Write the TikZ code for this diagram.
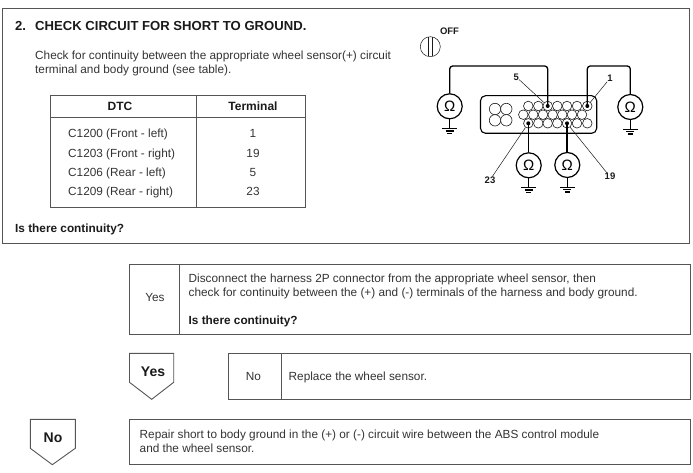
\documentclass[tikz,border=0pt]{standalone}
\usepackage{fontspec}
\setmainfont{Liberation Sans}
\usepackage{xcolor}
\definecolor{cFrame}{HTML}{555555}
\definecolor{cInk}{HTML}{1A1A1A}
\definecolor{cBody}{HTML}{333333}
\usetikzlibrary{positioning,calc}
\tikzset{
  frame-line/.style={draw=cFrame,line width=0.9pt},
  txt-body/.style={anchor=base west,inner sep=0pt,text=cBody,font=\fontsize{11.8}{14}\selectfont},
  txt-bold/.style={anchor=base west,inner sep=0pt,text=cInk,font=\fontsize{11.8}{14}\selectfont\bfseries},
  txt-cell/.style={anchor=base,inner sep=0pt,text=cBody,font=\fontsize{11.8}{14}\selectfont},
  txt-head/.style={anchor=base,inner sep=0pt,text=cInk,font=\fontsize{12}{14}\selectfont\bfseries},
  txt-sign/.style={anchor=base,inner sep=0pt,text=cInk,font=\fontsize{14}{16}\selectfont\bfseries},
  txt-title/.style={anchor=base west,inner sep=0pt,text=cInk,font=\fontsize{13.1}{15}\selectfont\bfseries},
  txt-pin/.style={inner sep=0pt,text=cInk,font=\fontsize{9.5}{11}\selectfont\bfseries},
  meter/.style={draw=black,line width=1.2pt,circle,fill=white,minimum size=25pt,inner sep=0pt,
    font=\fontsize{15}{15}\selectfont},
  pin/.style={draw=cInk,line width=0.6pt,circle,fill=white,minimum size=9.6pt,inner sep=0pt},
  pin-big/.style={pin,minimum size=11.4pt},
  wire/.style={draw=black,line width=1.3pt},
  leader/.style={draw=cInk,line width=0.5pt},
  pin-dot/.style={fill=black,circle,inner sep=0pt,minimum size=4pt},
}
\begin{document}
\begin{tikzpicture}[x=1pt,y=-1pt]
  \useasboundingbox (0,0) rectangle (693,473);
  % top frame
  \draw[frame-line] (2.7,8.7) rectangle (689,243.7);
  \node[txt-title] (num) at (15,31) {2.};
  \node[txt-title] (title) at (35,31) {CHECK CIRCUIT FOR SHORT TO GROUND.};
  \node[txt-body] (intro1) at (35,59.5) {Check for continuity between the appropriate wheel sensor(+) circuit};
  \node[txt-body] (intro2) at (35,73.5) {terminal and body ground (see table).};
  % table
  \draw[frame-line] (50.3,95.7) rectangle (305,207);
  \draw[frame-line] (50.3,117.7) -- (305,117.7);
  \draw[frame-line] (196.3,95.7) -- (196.3,207);
  \node[txt-head] (h-dtc) at (120,110.5) {DTC};
  \node[txt-head] (h-term) at (253,110.5) {Terminal};
  \foreach \row/\ypos/\dtc/\term in {a/137.5/C1200 (Front - left)/1,b/157.5/C1203 (Front - right)/19,
    c/177/C1206 (Rear - left)/5,d/196/C1209 (Rear - right)/23} {
    \node[txt-body] (dtc-\row) at (68,\ypos) {\dtc};
    \node[txt-cell] (term-\row) at (253,\ypos) {\term};
  }
  \node[txt-bold] (q1) at (15,233) {Is there continuity?};
  % ignition symbol
  \node[txt-pin] (off) at (449.5,31.5) {OFF};
  \node[draw=cInk,line width=0.5pt,circle,minimum size=20pt,inner sep=0pt] (key) at (430.3,46.7) {};
  \draw[draw=cInk,line width=0.5pt] (428.7,37) -- (428.7,56.5) (432,37) -- (432,56.5);
  % connector
  \draw[draw=black,line width=1.1pt,rounded corners=5pt] (480.5,95.7) rectangle (596.7,133.3);
  \foreach \x/\y in {495/109,506.3/109,495/120.3,506.3/120.3}
    \node[pin-big] at (\x,\y) {};
  \foreach \x [count=\i] in {528.3,538.3,547.7,557.3,567,577,587.3} {
    \node[pin] (pa\i) at (\x,106) {};
    \node[pin] (pc\i) at (\x,123.3) {};
  }
  \foreach \x [count=\i] in {523.3,533.3,543,552.7,562.3,572,582}
    \node[pin] (pb\i) at (\x,114.7) {};
  % meters
  \foreach \name/\x/\y in {ml/449.7/106.3,mr/630.3/107,mb/528.7/165.3,mc/567.3/165} {
    \node[meter] (\name) at (\x,\y) {Ω};
    \coordinate (g\name) at ($(\name.south)+(0,9)$);
    \draw[wire] (\name.south) -- (g\name);
    \draw[draw=black,line width=1pt] ($(g\name)+(-7.5,0)$) -- ($(g\name)+(7.5,0)$);
    \draw[draw=black,line width=1.3pt] ($(g\name)+(-4,2.5)$) -- ($(g\name)+(4,2.5)$);
    \draw[draw=black,line width=1.3pt] ($(g\name)+(-2.5,5)$) -- ($(g\name)+(2.5,5)$);
  }
  % wires
  \coordinate (wl) at (547.7,66);
  \coordinate (wr) at (630.3,66);
  \coordinate (wr2) at (587.3,66);
  \draw[wire,rounded corners=3pt] (ml.north) |- (wl) -- (pa3.center);
  \draw[wire,rounded corners=3pt] (mr.north) -- (wr) -- (wr2) -- (pa7.center);
  \draw[wire] (pc1.center) -- (pc1.center |- mb.north);
  \draw[wire] (pc5.center) -- (pc5.center |- mc.north);
  \foreach \p in {pa3,pa7,pc1,pc5}
    \node[pin-dot] at (\p) {};
  % pin labels
  \node[txt-pin] (l5) at (516.3,77) {5};
  \node[txt-pin] (l1) at (610,78.3) {1};
  \node[txt-pin] (l23) at (490,180) {23};
  \node[txt-pin] (l19) at (610,176.7) {19};
  \draw[leader] (l5) -- (pa3);
  \draw[leader] (l1) -- (pa7);
  \draw[leader] (l23) -- (pc1);
  \draw[leader] (l19) -- (pc5);
  % yes box
  \draw[frame-line] (129.5,264.5) rectangle (690,334);
  \draw[frame-line] (179,264.5) -- (179,334);
  \node[txt-cell] (yes1) at (155,301) {Yes};
  \node[txt-body] (y1) at (188.5,282) {Disconnect the harness 2P connector from the appropriate wheel sensor, then};
  \node[txt-body] (y2) at (188.5,296) {check for continuity between the (+) and (-) terminals of the harness and body ground.};
  \node[txt-bold] (y3) at (188.5,324.5) {Is there continuity?};
  % no box
  \draw[frame-line] (228.5,353.5) rectangle (690,399.5);
  \draw[frame-line] (281,353.5) -- (281,399.5);
  \node[txt-cell] (no1) at (253.5,380) {No};
  \node[txt-body] (n1) at (288.5,380) {Replace the wheel sensor.};
  % repair box
  \draw[frame-line] (129.5,419.5) rectangle (690,464.5);
  \node[txt-body] (r1) at (139.5,438) {Repair short to body ground in the (+) or (-) circuit wire between the ABS control module};
  \node[txt-body] (r2) at (139.5,452) {and the wheel sensor.};
  % pentagons
  \draw[frame-line] (129.5,353.3) -- (173.7,353.3) -- (173.7,382.3) -- (151.7,399.3) -- (129.5,382.3) -- cycle;
  \node[txt-sign] (p-yes) at (153,376.5) {Yes};
  \draw[frame-line] (30.3,419.3) -- (75.3,419.3) -- (75.3,448.3) -- (52.3,464.7) -- (30.3,448.3) -- cycle;
  \node[txt-sign] (p-no) at (53,442) {No};
\end{tikzpicture}
\end{document}
